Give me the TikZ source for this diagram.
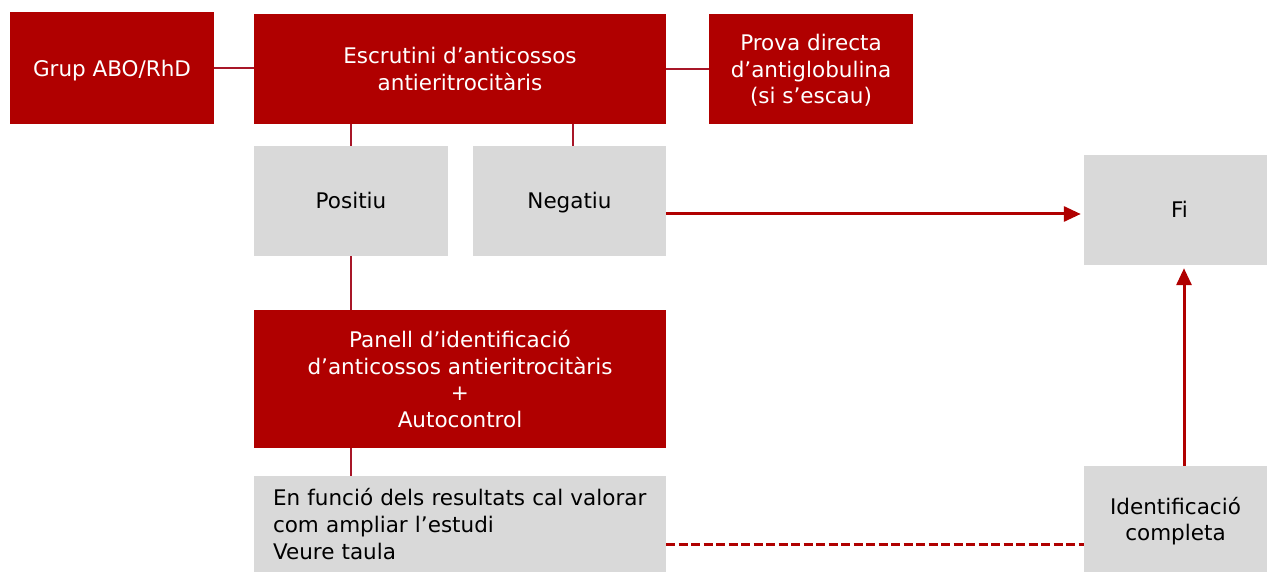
\documentclass[tikz,border=0pt]{standalone}
\usepackage{fontspec}
\setmainfont{DejaVu Sans}
\usetikzlibrary{arrows.meta}
\definecolor{boxred}{RGB}{176,0,0}
\definecolor{boxgray}{RGB}{217,217,217}
\definecolor{linered}{RGB}{168,22,40}
\tikzset{
  redbox/.style={fill=boxred, text=white, inner sep=0pt, align=center, text depth=0pt,
    font=\fontsize{21.5}{26.7}\selectfont},
  graybox/.style={fill=boxgray, text=black, inner sep=0pt, align=center, text depth=0pt,
    font=\fontsize{21.5}{26.7}\selectfont},
  oneline/.style={text height=15.5pt, text depth=0pt},
  conn/.style={draw=linered, line width=2.4pt},
  arr/.style={draw=boxred, line width=3pt, -{Triangle[length=17pt,width=15pt]}, shorten >=3pt},
  dashline/.style={draw=boxred, line width=3pt, dash pattern=on 9pt off 3.5pt}
}
\begin{document}
\begin{tikzpicture}[x=1pt,y=-1pt]
\useasboundingbox (0,0) rectangle (1267,572);
\node[redbox, minimum width=204pt, minimum height=112pt] (grup) at (112,68) {Grup ABO/RhD};
\node[redbox, minimum width=412pt, minimum height=110pt] (escr) at (460,69) {Escrutini d’anticossos\\antieritrocitàris};
\node[redbox, minimum width=204pt, minimum height=110pt] (prova) at (811,69) {Prova directa\\d’antiglobulina\\(si s’escau)};
\node[graybox, oneline, minimum width=194pt, minimum height=110pt] (pos) at (351,201) {Positiu};
\node[graybox, oneline, minimum width=193pt, minimum height=110pt] (neg) at (569.5,201) {Negatiu};
\node[graybox, oneline, minimum width=183pt, minimum height=110pt] (fi) at (1175.5,210) {\hspace*{8pt}Fi};
\node[redbox, minimum width=412pt, minimum height=138pt] (panell) at (460,379) {Panell d’identificació\\d’anticossos antieritrocitàris\\+\\Autocontrol};
\node[graybox, text depth={}, minimum width=412pt, minimum height=96pt, align=left, text width=374pt] (funcio) at (460,524) {En funció dels resultats cal valorar\\com ampliar l’estudi\\Veure taula};
\node[graybox, minimum width=183pt, minimum height=106pt] (ident) at (1175.5,519) {Identificació\\completa};
\draw[conn] (grup.east) -- (grup.east -| escr.west);
\draw[conn] (prova.west) -- (prova.west -| escr.east);
\draw[conn] (pos.north) -- (pos.north |- escr.south);
\draw[conn] ([xshift=3.5pt]neg.north) -- ([xshift=3.5pt]neg.north |- escr.south);
\draw[conn] (pos.south) -- (pos.south |- panell.north);
\draw[conn] (panell.south -| pos.south) -- (funcio.north -| pos.south);
\draw[arr] ([yshift=-13pt]neg.east) -- ([yshift=-13pt]neg.east -| fi.west);
\draw[arr] ([xshift=8.5pt]ident.north) -- ([xshift=8.5pt]ident.north |- fi.south);
\draw[dashline] ([yshift=-20pt]funcio.east) -- ([yshift=-20pt]funcio.east -| ident.west);
\end{tikzpicture}
\end{document}
